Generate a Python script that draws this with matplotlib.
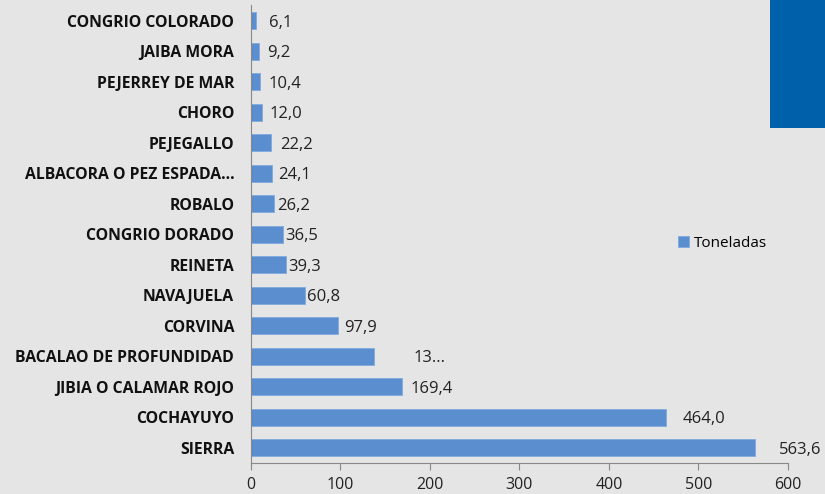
import matplotlib
matplotlib.use("Agg")
import matplotlib.pyplot as plt
from matplotlib.patches import Rectangle

categories = ["CONGRIO COLORADO", "JAIBA MORA", "PEJERREY DE MAR", "CHORO", "PEJEGALLO",
              "ALBACORA O PEZ ESPADA...", "ROBALO", "CONGRIO DORADO", "REINETA", "NAVAJUELA",
              "CORVINA", "BACALAO DE PROFUNDIDAD", "JIBIA O CALAMAR ROJO", "COCHAYUYO", "SIERRA"]
values = [6.1, 9.2, 10.4, 12.0, 22.2, 24.1, 26.2, 36.5, 39.3, 60.8, 97.9, 138.0, 169.4, 464.0, 563.6]
labels = ["6,1", "9,2", "10,4", "12,0", "22,2", "24,1", "26,2", "36,5", "39,3", "60,8",
          "97,9", "13...", "169,4", "464,0", "563,6"]
xticks = [0, 100, 200, 300, 400, 500, 600]
series_name = "Toneladas"

# label offsets in points (style)
label_dx = [9, 6, 6, 6, 6.5, 4, 2, 1, 1.5, 1.5, 4, 28, 6, 12, 17]

bg = "#E5E5E5"
bar_color = "#5A8ECF"

fig = plt.figure(figsize=(8.25, 4.94), dpi=100, facecolor=bg)
ax = fig.add_axes([0.304, 0.063, 0.651, 0.927], facecolor=bg)

ypos = list(range(len(categories)))
bars = ax.barh(ypos, values, height=0.56, color=bar_color, edgecolor="#7FAAE0",
               linewidth=0.6, label=series_name)
ax.set_ylim(len(categories) - 0.5, -0.52)
ax.set_xlim(0, 600)
ax.set_xticks(xticks)
ax.set_xticklabels([str(t) for t in xticks], fontsize=11.5, color="#222222", family="Open Sans")
ax.set_yticks(ypos)
ax.set_yticklabels(categories, fontsize=11.3, fontweight="bold", color="#111111", family="Open Sans")
ax.tick_params(axis="y", length=0, pad=12)
ax.tick_params(axis="x", length=5, color="#888888", direction="out", pad=5)

for s in ["top", "right"]:
    ax.spines[s].set_visible(False)
ax.spines["left"].set_color("#888888")
ax.spines["bottom"].set_color("#888888")

for b, lab, dx in zip(bars, labels, label_dx):
    ax.annotate(lab, xy=(b.get_width(), b.get_y() + b.get_height() / 2),
                xytext=(dx, -1.5), textcoords="offset points", va="center", ha="left",
                fontsize=12, color="#222222", family="Open Sans")

leg = ax.legend(loc="center left", bbox_to_anchor=(0.77, 0.48), frameon=False,
                prop={"family": "Open Sans", "size": 11}, handlelength=0.7, handleheight=0.7,
                handletextpad=0.3)

fig.patches.append(Rectangle((770 / 825, 1 - 128 / 494), 55 / 825, 128 / 494,
                             transform=fig.transFigure, facecolor="#0060AA", edgecolor="none"))

fig.savefig("out.png", dpi=100, facecolor=bg)
